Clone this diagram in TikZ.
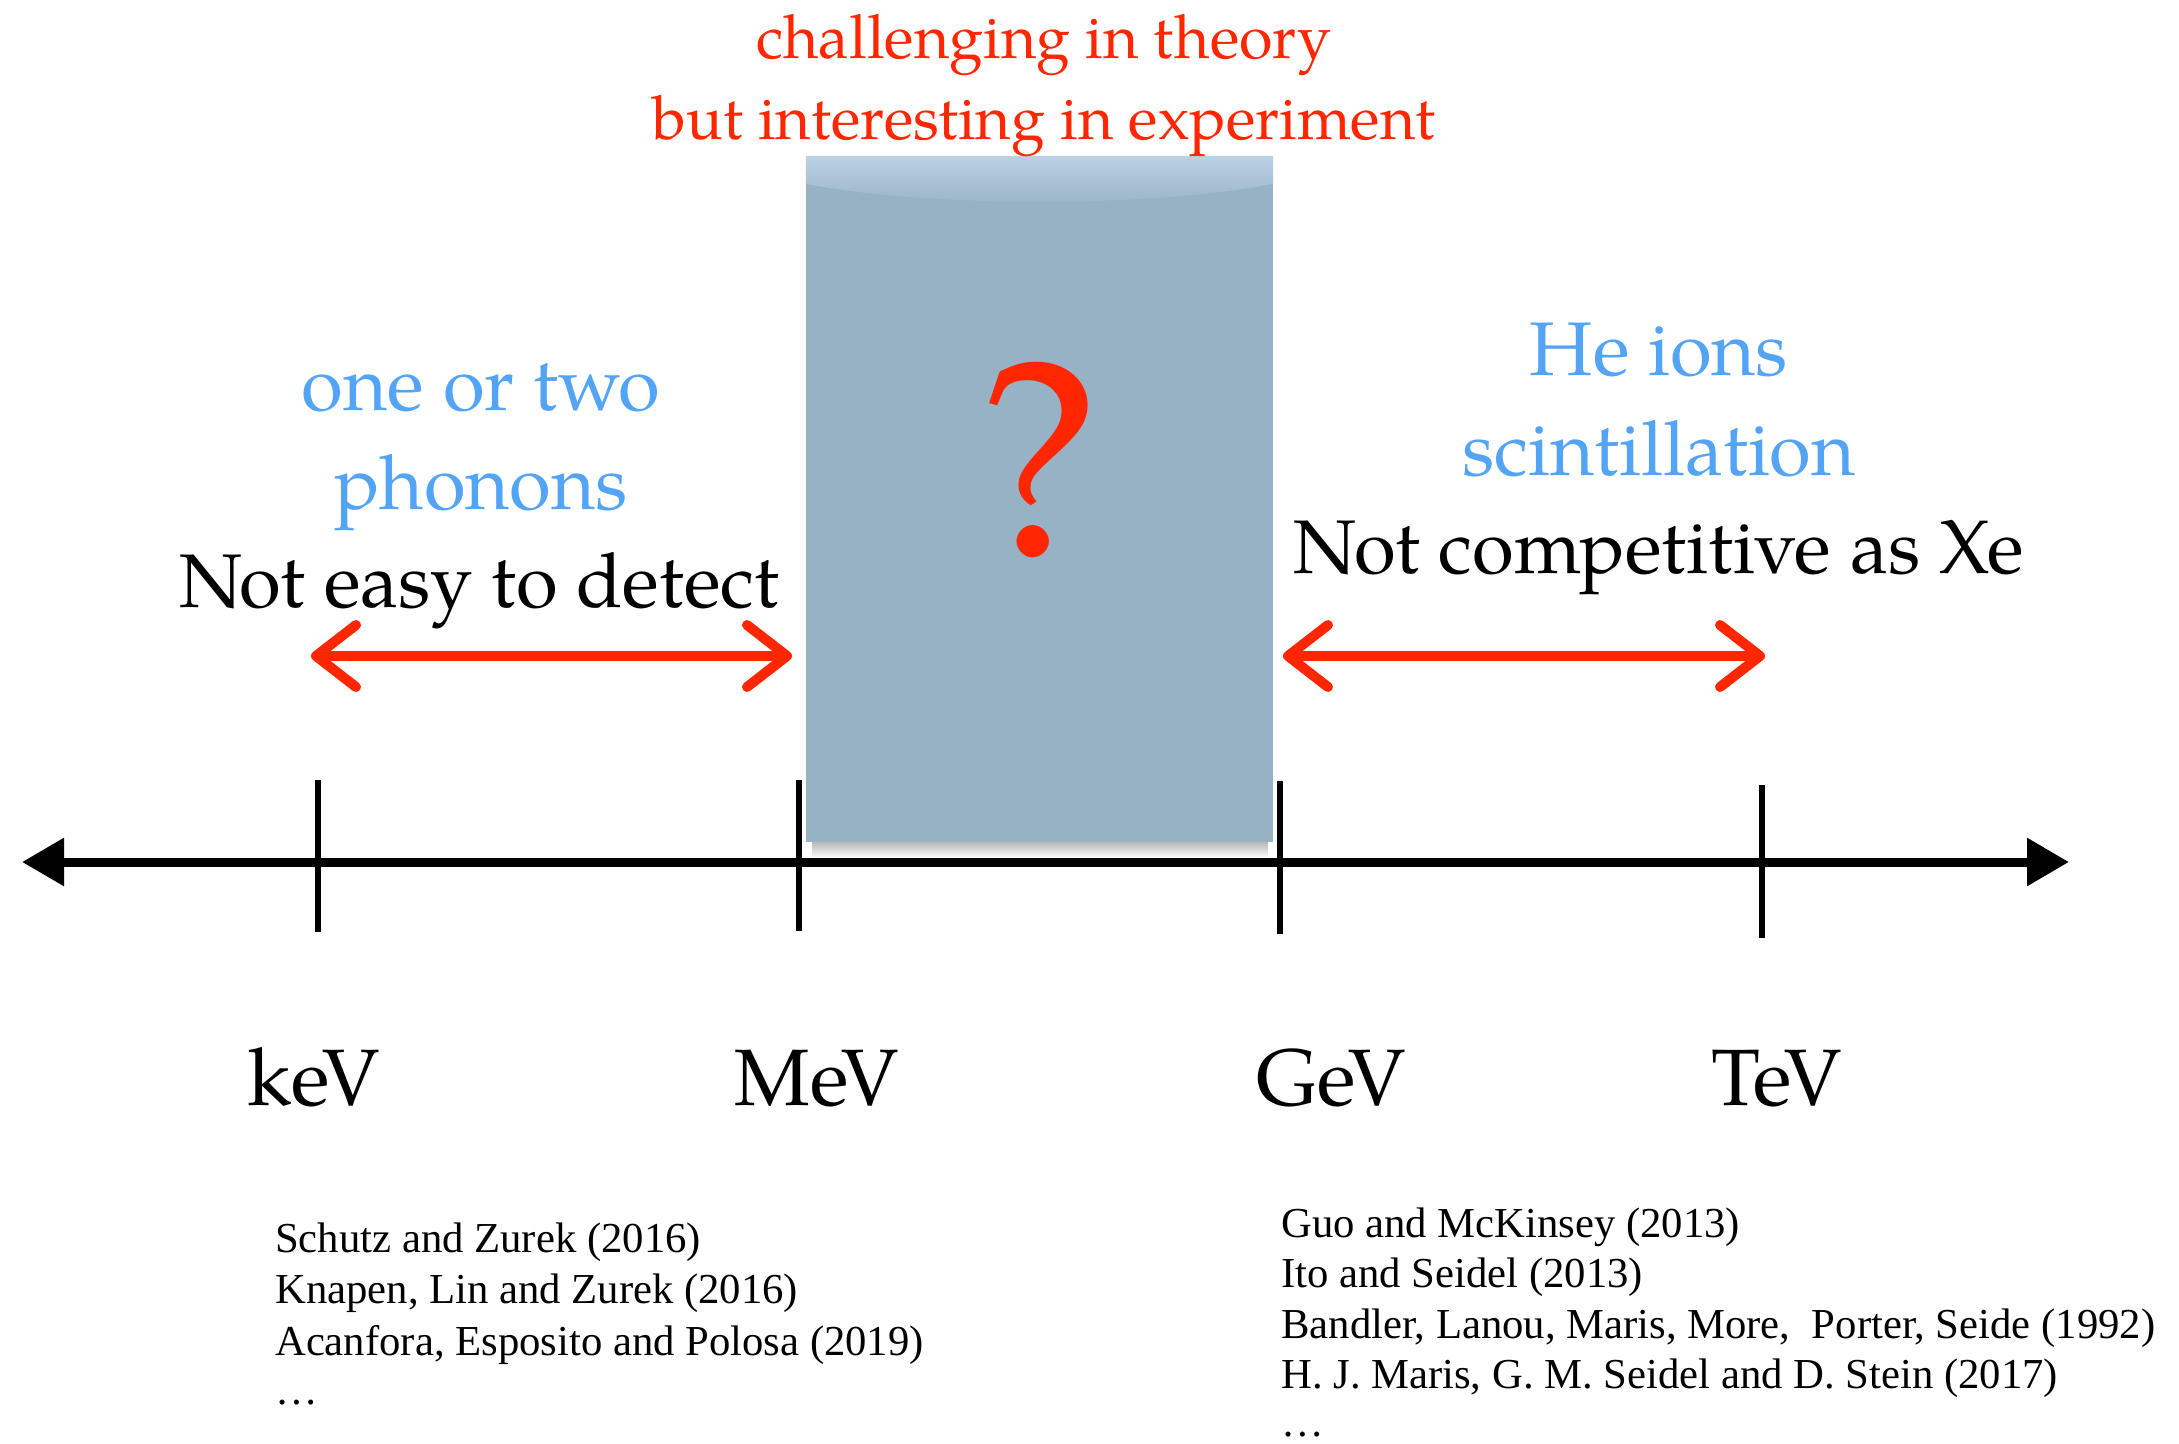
\documentclass[tikz,border=0pt]{standalone}
\usepackage{fontspec}
\usetikzlibrary{arrows.meta}
\newfontfamily\palfont[Extension=.otf,UprightFont=*-regular]{texgyrepagella}
\newfontfamily\timesfont{Liberation Serif}
\definecolor{myred}{RGB}{255,38,0}
\definecolor{myblue}{RGB}{84,164,246}
\definecolor{boxblue}{RGB}{152,178,197}
\definecolor{boxtop}{RGB}{186,210,228}
\tikzset{
  bigblack/.style={font=\palfont\fontsize{76}{80}\selectfont, anchor=base, inner sep=0pt, text=black},
  bigblue/.style={font=\palfont\fontsize{76}{80}\selectfont, anchor=base, inner sep=0pt, text=myblue},
  redtop/.style={font=\palfont\fontsize{61}{64}\selectfont, anchor=base, inner sep=0pt, text=myred},
  energy/.style={font=\palfont\fontsize{80}{84}\selectfont, anchor=base, inner sep=0pt},
  refline/.style={font=\timesfont\fontsize{42.7}{46}\selectfont, anchor=base west, inner sep=0pt},
  axisline/.style={line width=9pt, {Triangle[length=42pt,width=46pt]}-{Triangle[length=42pt,width=46pt]}},
  tickmark/.style={line width=6.5pt},
  redarrow/.style={line width=10pt, myred, line cap=round,
     {Straight Barb[round,length=40pt,width=62pt]}-{Straight Barb[round,length=40pt,width=62pt]}}
}
\begin{document}
\begin{tikzpicture}[x=1pt,y=-1pt]
\useasboundingbox (0,0) rectangle (2179,1443);
% shaded box
\shade[top color=black!28, bottom color=white] (812,842) rectangle (1268,858);
\node[fill=boxblue, minimum width=467pt, minimum height=686pt, inner sep=0pt] (qbox) at (1039.5,499) {};
\shade[top color=boxtop, bottom color=boxblue]
  (qbox.north west) -- (qbox.north east) -- ([yshift=-28pt]qbox.north east)
  .. controls ([xshift=-120pt,yshift=-52pt]qbox.north east) and ([xshift=120pt,yshift=-52pt]qbox.north west) .. ([yshift=-28pt]qbox.north west) -- cycle;
\node[font=\palfont\fontsize{280}{280}\selectfont, text=myred, anchor=base, inner sep=0pt] (qmark) at (1040,556) {?};
% axis
\coordinate (axL) at (22,862);
\coordinate (axR) at (2069,862);
\draw[axisline] (axL) -- (axR);
\coordinate (t1a) at (318,780); \coordinate (t1b) at (318,932);
\coordinate (t2a) at (799,780); \coordinate (t2b) at (799,931);
\coordinate (t3a) at (1280,781); \coordinate (t3b) at (1280,934);
\coordinate (t4a) at (1762,785); \coordinate (t4b) at (1762,938);
\draw[tickmark] (t1a) -- (t1b);
\draw[tickmark] (t2a) -- (t2b);
\draw[tickmark] (t3a) -- (t3b);
\draw[tickmark] (t4a) -- (t4b);
% red arrows
\coordinate (la1) at (311,656); \coordinate (la2) at (792,656);
\coordinate (ra1) at (1283,656); \coordinate (ra2) at (1765,656);
\draw[redarrow] (la1) -- (la2);
\draw[redarrow] (ra1) -- (ra2);
% texts
\node[redtop] (chal) at (1044,58) {challenging in theory};
\node[redtop] (but) at (1044,139) {but interesting in experiment};
\node[bigblue] (one) at (481,410) {one or two};
\node[bigblue] (phon) at (481,509) {phonons};
\node[bigblack] (noteasy) at (479,607) {Not easy to detect};
\node[bigblue] (he) at (1659,375) {He ions};
\node[bigblue] (scin) at (1659,475) {scintillation};
\node[bigblack] (notcomp) at (1659,573) {Not competitive as Xe};
\node[energy] (kev) at (314,1105) {keV};
\node[energy] (mev) at (817,1105) {MeV};
\node[energy] (gev) at (1331,1105) {GeV};
\node[energy] (tev) at (1777,1105) {TeV};
% references
\node[refline] (l1) at (275,1252) {Schutz and Zurek (2016)};
\node[refline] (l2) at (275,1303) {Knapen, Lin and Zurek (2016)};
\node[refline] (l3) at (275,1355) {Acanfora, Esposito and Polosa (2019)};
\node[refline] (l4) at (275,1404) {…};
\node[refline] (r1) at (1281,1237) {Guo and McKinsey (2013)};
\node[refline] (r2) at (1281,1287) {Ito and Seidel (2013)};
\node[refline] (r3) at (1281,1338) {Bandler, Lanou, Maris, More,\ \ Porter, Seide (1992)};
\node[refline] (r4) at (1281,1388) {H. J. Maris, G. M. Seidel and D. Stein (2017)};
\node[refline] (r5) at (1281,1436) {…};
\end{tikzpicture}
\end{document}
